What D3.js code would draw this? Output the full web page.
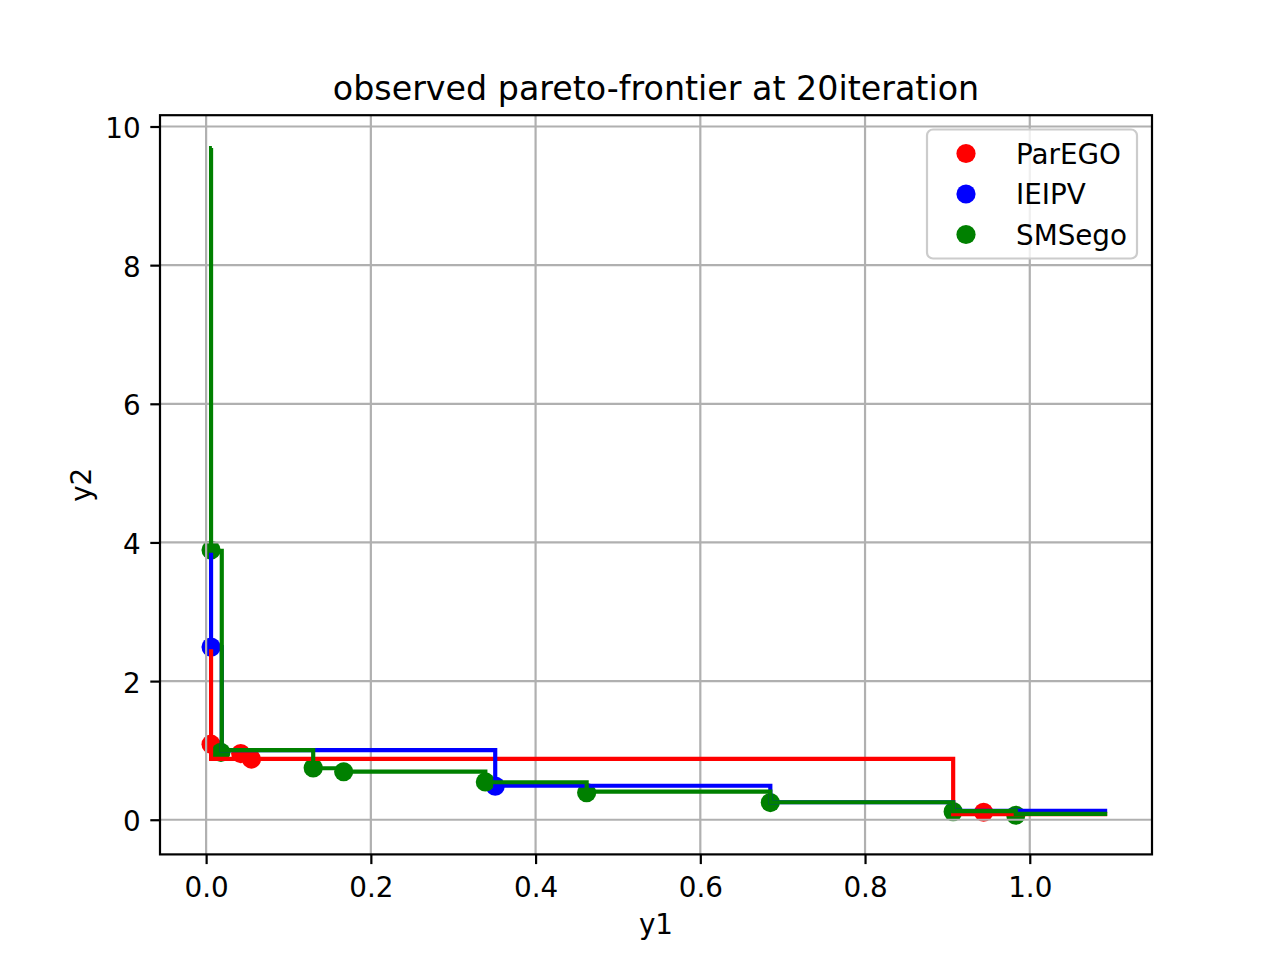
<!DOCTYPE html>
<html>
<head>
<meta charset="utf-8">
<script src="https://cdn.jsdelivr.net/npm/d3@7"></script>
<style>
  body { margin: 0; background: #fff; }
  text { font-family: "DejaVu Sans", sans-serif; fill: #000; }
</style>
</head>
<body>
<script>
// observed points per method [y1, y2]
const paregoPoints = [[0.006, 1.09], [0.042, 0.955], [0.055, 0.875], [0.944, 0.108]];
const ieipvPoints = [[0.006, 2.49], [0.351, 0.485]];
const smsegoPoints = [[0.006, 3.89], [0.018, 0.973], [0.130, 0.747], [0.167, 0.692],
  [0.339, 0.545], [0.462, 0.39], [0.685, 0.248], [0.907, 0.117], [0.983, 0.065]];

// step frontier vertices per method [y1, y2]
const paregoFront = [[0.006, 2.47], [0.006, 0.877], [0.907, 0.08], [1.094, 0.08]];
const ieipvFront = [[0.006, 3.88], [0.006, 2.49], [0.019, 1.003], [0.351, 0.49],
  [0.685, 0.252], [0.907, 0.13], [1.094, 0.13]];
const smsegoFront = [[0.007, 9.69], [0.006, 3.88], [0.019, 1.005], [0.130, 0.743],
  [0.167, 0.694], [0.339, 0.541], [0.462, 0.405], [0.685, 0.252], [0.907, 0.124],
  [0.983, 0.085], [1.094, 0.085]];

const seriesNames = ["ParEGO", "IEIPV", "SMSego"];
const seriesColors = ["#ff0000", "#0000ff", "#008000"];

const y1Ticks = [0.0, 0.2, 0.4, 0.6, 0.8, 1.0];
const y2Ticks = [0, 2, 4, 6, 8, 10];

const main = () => {
  const width = 1280, height = 960;
  const left = 160, right = 1152, top = 115.2, bottom = 854.4;
  const fs = 27.8;

  const svg = d3.select("body")
    .append("svg")
    .attr("width", width)
    .attr("height", height);

  const x = d3.scaleLinear().domain([-0.056, 1.1484]).range([left, right]);
  const y = d3.scaleLinear().domain([-0.5, 10.163]).range([bottom, top]);

  const allPoints = [paregoPoints, ieipvPoints, smsegoPoints];
  const allFronts = [paregoFront, ieipvFront, smsegoFront];

  // scatter (drawn below grid, like matplotlib)
  allPoints.forEach((pts, i) => {
    svg.append("g").selectAll("circle")
      .data(pts)
      .enter()
      .append("circle")
      .attr("cx", d => x(d[0]))
      .attr("cy", d => y(d[1]))
      .attr("r", 9.6)
      .attr("fill", seriesColors[i]);
  });

  // grid
  const grid = svg.append("g").attr("stroke", "#b0b0b0").attr("stroke-width", 2.2);
  grid.selectAll(".gx").data(y1Ticks).enter().append("line")
    .attr("x1", d => x(d)).attr("x2", d => x(d))
    .attr("y1", top).attr("y2", bottom);
  grid.selectAll(".gy").data(y2Ticks).enter().append("line")
    .attr("x1", left).attr("x2", right)
    .attr("y1", d => y(d)).attr("y2", d => y(d));

  // step lines
  const line = d3.line()
    .x(d => x(d[0]))
    .y(d => y(d[1]))
    .curve(d3.curveStepAfter);

  allFronts.forEach((f, i) => {
    svg.append("path")
      .attr("d", line(f))
      .attr("fill", "none")
      .attr("stroke", seriesColors[i])
      .attr("stroke-width", 4.17)
      .attr("stroke-linejoin", "miter")
      .attr("stroke-linecap", "butt");
  });

  // axes
  const xAxis = d3.axisBottom(x).tickValues(y1Ticks)
    .tickFormat(d3.format(".1f")).tickSizeInner(9.7).tickSizeOuter(0).tickPadding(9.7);
  const yAxis = d3.axisLeft(y).tickValues(y2Ticks)
    .tickFormat(d3.format("d")).tickSizeInner(9.7).tickSizeOuter(0).tickPadding(9.7);

  const gx = svg.append("g").attr("transform", `translate(0,${bottom})`).call(xAxis);
  const gy = svg.append("g").attr("transform", `translate(${left},0)`).call(yAxis);
  [gx, gy].forEach(g => {
    g.select(".domain").remove();
    g.selectAll(".tick line").attr("stroke", "#000").attr("stroke-width", 2.2);
    g.selectAll(".tick text")
      .attr("font-family", "DejaVu Sans")
      .attr("font-size", fs)
      .attr("fill", "#000");
  });
  gx.selectAll(".tick text").attr("dy", "0.82em");
  gy.selectAll(".tick text").attr("dy", "0.4em");

  // spines
  svg.append("rect")
    .attr("x", left).attr("y", top)
    .attr("width", right - left).attr("height", bottom - top)
    .attr("fill", "none").attr("stroke", "#000").attr("stroke-width", 2.2);

  // title and labels
  svg.append("text")
    .attr("x", (left + right) / 2).attr("y", 100)
    .attr("text-anchor", "middle")
    .attr("font-size", 33.3)
    .text("observed pareto-frontier at 20iteration");

  svg.append("text")
    .attr("x", (left + right) / 2).attr("y", 934)
    .attr("text-anchor", "middle")
    .attr("font-size", fs)
    .text("y1");

  svg.append("text")
    .attr("transform", `translate(91,${(top + bottom) / 2}) rotate(-90)`)
    .attr("text-anchor", "middle")
    .attr("font-size", fs)
    .text("y2");

  // legend
  const lg = svg.append("g");
  lg.append("rect")
    .attr("x", 927).attr("y", 129.5)
    .attr("width", 210).attr("height", 129)
    .attr("rx", 6).attr("ry", 6)
    .attr("fill", "#fff").attr("fill-opacity", 0.8)
    .attr("stroke", "#cccccc").attr("stroke-width", 2.2);

  const item = lg.selectAll(".item")
    .data(seriesNames)
    .enter()
    .append("g")
    .attr("transform", (d, i) => `translate(0,${153.5 + i * 40.5})`);

  item.append("circle")
    .attr("cx", 966).attr("cy", 0).attr("r", 9.6)
    .attr("fill", (d, i) => seriesColors[i]);

  item.append("text")
    .attr("x", 1016).attr("y", 10)
    .attr("font-size", fs)
    .text(d => d);
};

window.onload = main;
</script>
</body>
</html>
